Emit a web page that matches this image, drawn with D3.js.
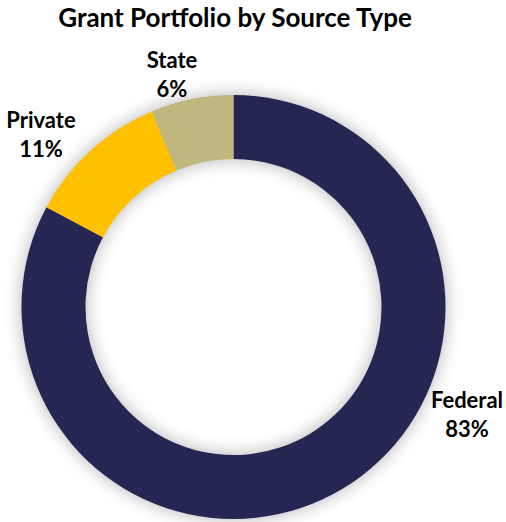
<!DOCTYPE html>
<html><head><meta charset="utf-8">
<script src="https://cdn.jsdelivr.net/npm/d3@7"></script>
<style>html,body{margin:0;padding:0;background:#fff;}svg{display:block;}</style>
</head><body>
<script>
const categories = ["Federal", "Private", "State"];
const values = [82.8, 10.9, 6.3];
const labels = ["83%", "11%", "6%"];
const colors = ["#252652", "#FFC000", "#BFB77D"];
const title = "Grant Portfolio by Source Type";

const W = 506, H = 522;
const cx = 233.5, cy = 307, rOuter = 212, rInner = 148;
const font = "Lato, 'Open Sans', sans-serif";

const svg = d3.select("body").append("svg").attr("width", W).attr("height", H);
const defs = svg.append("defs");
const f = defs.append("filter").attr("id", "sh").attr("x", "-30%").attr("y", "-30%").attr("width", "160%").attr("height", "160%");
f.append("feGaussianBlur").attr("in", "SourceAlpha").attr("stdDeviation", 9).attr("result", "b");
f.append("feComponentTransfer").attr("in", "b").append("feFuncA").attr("type", "linear").attr("slope", 0.3);

svg.append("text").attr("x", 235).attr("y", 27).attr("text-anchor", "middle")
  .attr("font-family", font).attr("font-weight", 700).attr("font-size", 26).attr("fill", "#000").text(title);

const g = svg.append("g").attr("transform", `translate(${cx},${cy})`);
const pie = d3.pie().sort(null).value(d => d)(values);
const arc = d3.arc().innerRadius(rInner).outerRadius(rOuter);

g.append("path").attr("d", d3.arc().innerRadius(rInner).outerRadius(rOuter).startAngle(0).endAngle(2 * Math.PI)())
  .attr("fill", "#000").attr("filter", "url(#sh)");
g.selectAll("path.s").data(pie).join("path").attr("class", "s")
  .attr("d", arc).attr("fill", (d, i) => colors[i]);

const labelPos = [[467, 408], [41, 128], [172, 68]];
categories.forEach((c, i) => {
  const t = svg.append("text").attr("text-anchor", "middle").attr("font-family", font)
    .attr("font-weight", 700).attr("font-size", 22).attr("fill", "#000");
  t.append("tspan").attr("x", labelPos[i][0]).attr("y", labelPos[i][1]).text(c);
  t.append("tspan").attr("x", labelPos[i][0]).attr("y", labelPos[i][1] + 29).text(labels[i]);
});
</script>
</body></html>
